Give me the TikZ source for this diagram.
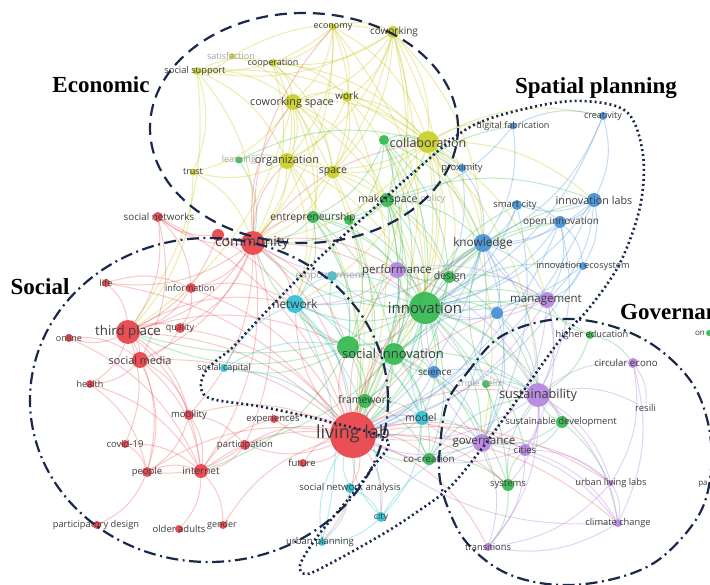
\documentclass[tikz,border=0pt]{standalone}
\usepackage{fontspec}
\setmainfont{Open Sans}
\newfontfamily\headfont{Liberation Serif}
\pgfdeclarelayer{edges}
\pgfdeclarelayer{labels}
\pgfsetlayers{edges,main,labels}
\definecolor{cy}{RGB}{200,204,30}
\definecolor{cg}{RGB}{40,182,70}
\definecolor{cb}{RGB}{60,140,212}
\definecolor{cp}{RGB}{178,126,222}
\definecolor{cr}{RGB}{232,55,62}
\definecolor{cc}{RGB}{38,190,210}
\definecolor{txt}{RGB}{60,60,60}
\definecolor{fade}{RGB}{165,165,165}
\definecolor{navy}{RGB}{25,40,75}
\tikzset{
  dotnode/.style={circle, inner sep=0pt, draw=none, fill opacity=0.88},
  lbl/.style={inner sep=0pt, text=txt},
  ey/.style={draw=cy, draw opacity=0.36, line width=1pt},
  eg/.style={draw=cg, draw opacity=0.3, line width=1pt},
  eb/.style={draw=cb, draw opacity=0.3, line width=1pt},
  ep/.style={draw=cp, draw opacity=0.34, line width=1pt},
  er/.style={draw=cr, draw opacity=0.27, line width=1pt},
  ec/.style={draw=cc, draw opacity=0.32, line width=1pt},
  head/.style={inner sep=0pt, font=\headfont\bfseries\fontsize{23}{23}\selectfont, text=black},
  dashline/.style={draw=navy, line width=2.2pt, dash pattern=on 12pt off 7pt},
  dashdotline/.style={draw=navy, line width=2.2pt, dash pattern=on 12pt off 4.5pt on 2pt off 4.5pt},
  dotline/.style={draw=navy, line width=2.6pt, dash pattern=on 2pt off 3pt},
}
\newcommand\vn[9]{%
  \node[dotnode, fill=#2, minimum size=#5pt] (#1) at (#3,#4) {};
  \begin{pgfonlayer}{labels}
  \node[lbl, font=\fontsize{#8}{#8}\selectfont] (#1-t) at (#6,#7) {#9};
  \end{pgfonlayer}}
\newcommand\vd[5]{%
  \node[dotnode, fill=#2, minimum size=#5pt] (#1) at (#3,#4) {};}
\begin{document}
\begin{tikzpicture}[x=1pt,y=-1pt]
\begin{pgfonlayer}{edges}
\fill[white] (0,0) rectangle (710,585);
\end{pgfonlayer}
\useasboundingbox (0,0) rectangle (710,585);
\clip (0,0) rectangle (710,585);
% yellow
\vn{econ}{cy}{333}{27}{7}{333}{27}{9}{economy}
\vn{cowk}{cy}{393}{32}{12}{394}{32}{10}{coworking}
\vn{satis}{cy}{232}{56}{6}{231}{56}{9}{\color{fade}satisfaction}
\vn{socsup}{cy}{197}{71}{8}{195}{71}{9.3}{social support}
\vn{coop}{cy}{273}{63}{8}{273}{63}{9}{cooperation}
\vn{cwsp}{cy}{293}{102}{16}{292}{103}{10.8}{coworking space}
\vn{work}{cy}{347}{97}{10}{347}{96}{10}{work}
\vn{collab}{cy}{428}{142}{22}{428}{143}{12.5}{collaboration}
\vn{trust}{cy}{193}{172}{7}{193}{172}{9}{trust}
\vn{orgz}{cy}{287}{161}{16}{287}{161}{11}{organization}
\vn{space}{cy}{333}{172}{13}{333}{172}{10.5}{space}
% green
\vn{learn}{cg}{239}{160}{7}{239}{160}{9}{\color{fade}learning}
\vd{g1}{cg}{384}{140}{10}
\vn{maker}{cg}{387}{200}{14}{388}{200}{10.5}{makerspace}
\vn{entre}{cg}{313}{217}{12}{313}{218}{10.4}{entrepreneurship}
\vd{g2}{cg}{349}{220}{10}
\vn{design}{cg}{449}{277}{12}{450}{277}{10.5}{design}
\vn{innov}{cg}{425}{308}{32}{425}{308}{15}{innovation}
\vd{si1}{cg}{348}{347}{22}
\vn{si2}{cg}{394}{354}{22}{393}{354}{13}{social innovation}
\vn{frame}{cg}{365}{401}{14}{365}{400}{10.5}{framework}
\vn{cocre}{cg}{429}{459}{12}{429}{459}{9.8}{co-creation}
\vn{triple}{cg}{486}{384}{8}{480}{384}{9}{\color{fade}triple helix}
\vn{higher}{cg}{590}{335}{8}{592}{335}{9.2}{higher education}
\vn{susdev}{cg}{562}{422}{12}{561}{422}{9.5}{sustainable development}
\vn{systems}{cg}{508}{485}{12}{508}{485}{9.5}{systems}
\vn{on}{cg}{709}{333}{6}{700}{333}{8}{on}
% blue
\vn{prox}{cb}{462}{168}{8}{462}{168}{9.4}{proximity}
\vn{digfab}{cb}{513}{126}{7}{513}{126}{9}{digital fabrication}
\vn{creat}{cb}{603}{116}{8}{603}{116}{9}{creativity}
\vn{ilabs}{cb}{594}{200}{14}{594}{200}{10.8}{innovation labs}
\vn{smart}{cb}{517}{205}{10}{515}{205}{9.5}{smart city}
\vn{openi}{cb}{560}{222}{12}{561}{222}{10}{open innovation}
\vn{know}{cb}{483}{243}{18}{483}{243}{11.8}{knowledge}
\vn{inneco}{cb}{583}{266}{8}{583}{266}{9.2}{innovation ecosystem}
\vd{b1}{cb}{497}{313}{12}
\vn{science}{cb}{434}{372}{12}{435}{372}{9.8}{science}
% purple
\vn{perf}{cp}{397}{270}{16}{397}{270}{11.5}{performance}
\vn{mgmt}{cp}{547}{300}{16}{546}{300}{11.5}{management}
\vn{sust}{cp}{538}{395}{24}{538}{395}{12.7}{sustainability}
\vn{circ}{cp}{633}{363}{10}{626}{363}{9.7}{circular econo}
\vn{gov}{cp}{482}{443}{18}{484}{443}{11.6}{governance}
\vn{cities}{cp}{525}{450}{12}{525}{450}{9.5}{cities}
\vn{ull}{cp}{611}{483}{6}{611}{483}{9.3}{urban living labs}
\vn{climate}{cp}{618}{523}{8}{618}{523}{9.3}{climate change}
\vn{trans}{cp}{488}{547}{8}{488}{547}{9.3}{transitions}
% red
\vn{comm}{cr}{253}{243}{24}{252}{243}{14}{community}
\vd{r2}{cr}{218}{235}{12}
\vn{socnet}{cr}{158}{217}{10}{159}{217}{9.8}{social networks}
\vn{life}{cr}{106}{283}{8}{106}{283}{9}{life}
\vn{info}{cr}{191}{288}{10}{190}{288}{9}{information}
\vn{tp}{cr}{128}{332}{24}{128}{332}{13.3}{third place}
\vn{quality}{cr}{180}{328}{10}{180}{328}{9}{quality}
\vn{online}{cr}{69}{338}{8}{69}{338}{9}{online}
\vn{smedia}{cr}{140}{360}{16}{140}{360}{10.8}{social media}
\vn{health}{cr}{90}{384}{8}{90}{384}{9}{health}
\vn{mobil}{cr}{189}{415}{10}{189}{415}{9.5}{mobility}
\vn{covid}{cr}{125}{444}{8}{125}{444}{9.5}{covid-19}
\vn{partic}{cr}{245}{445}{10}{245}{445}{9.5}{participation}
\vn{people}{cr}{147}{472}{10}{147}{472}{9.5}{people}
\vn{internet}{cr}{201}{471}{14}{201}{471}{10}{internet}
\vn{pdesign}{cr}{97}{525}{8}{96}{525}{9.3}{participatory design}
\vn{older}{cr}{179}{529}{8}{179}{529}{9.5}{older adults}
\vn{gender}{cr}{223}{525}{8}{222}{525}{9}{gender}
\vn{exper}{cr}{274}{419}{8}{273}{419}{9.5}{experiences}
\vn{future}{cr}{303}{463}{8}{302}{463}{9.5}{future}
\vn{ll}{cr}{353}{435}{46}{353}{434}{18}{living lab}
% cyan
\vn{sockap}{cc}{224}{368}{8}{224}{368}{9}{social capital}
\vn{netw}{cc}{295}{304}{18}{295}{304}{11.8}{network}
\vn{empow}{cc}{332}{276}{10}{330}{276}{10}{\color{fade}empowerment}
\vn{model}{cc}{422}{418}{14}{421}{418}{10.5}{model}
\vn{sna}{cc}{350}{488}{10}{350}{488}{9.5}{social network analysis}
\vn{city}{cc}{381}{517}{10}{381}{517}{9}{city}
\vn{uplan}{cc}{322}{542}{8}{320}{542}{9.5}{urban planning}
% label-only texts
\begin{pgfonlayer}{labels}
\node[lbl, text=fade, font=\fontsize{9}{9}\selectfont] (policy-t) at (433,199) {policy};
\node[lbl, font=\fontsize{9.5}{9.5}\selectfont, anchor=west] (resil-t) at (635,408) {resili};
\node[lbl, font=\fontsize{8}{8}\selectfont] (pa-t) at (703,484) {pa};
\end{pgfonlayer}
% edges
\begin{pgfonlayer}{edges}
\foreach \a/\b in {econ/cowk, econ/cwsp, econ/coop, econ/collab, econ/orgz, econ/space, econ/socsup, econ/work, econ/comm, econ/innov,
cowk/cwsp, cowk/work, cowk/collab, cowk/coop, cowk/orgz, cowk/space, cowk/socsup, cowk/comm, cowk/innov, cowk/know, cowk/maker, cowk/ll, cowk/si1,
satis/socsup, satis/cwsp, satis/cowk,
socsup/coop, socsup/cwsp, socsup/trust, socsup/comm, socsup/tp, socsup/orgz, socsup/collab,
coop/cwsp, coop/collab, coop/work, coop/orgz, coop/space, coop/comm,
cwsp/work, cwsp/collab, cwsp/orgz, cwsp/space, cwsp/comm, cwsp/trust, cwsp/tp, cwsp/innov, cwsp/ll, cwsp/maker, cwsp/entre, cwsp/netw,
work/collab, work/space, work/orgz, work/innov, work/ll, work/know,
collab/space, collab/orgz, collab/innov, collab/know, collab/maker, collab/ll, collab/si2, collab/design, collab/mgmt, collab/prox, collab/digfab, collab/creat, collab/ilabs, collab/netw, collab/comm, collab/gov, collab/sust,
orgz/space, orgz/trust, orgz/comm, orgz/innov, orgz/ll, orgz/netw, orgz/entre,
space/maker, space/innov, space/ll, space/comm, space/design,
trust/comm, trust/tp}
  \draw[ey] (\a) to[bend left=20] (\b);
\foreach \a/\b in {g1/maker, g1/innov, g1/design, g1/si2, g1/entre, g1/prox, g1/know, g1/frame, g1/collab, g1/g2,
maker/innov, maker/design, maker/si1, maker/si2, maker/entre, maker/digfab, maker/know, maker/ll, maker/ilabs, maker/perf, maker/comm, maker/frame, maker/g2,
entre/innov, entre/si1, entre/si2, entre/comm, entre/netw, entre/ll, entre/perf, entre/g2,
g2/innov, g2/si1, g2/ll,
design/innov, design/know, design/ll, design/si2, design/sust, design/mgmt, design/perf, design/openi,
innov/si1, innov/si2, innov/ll, innov/know, innov/mgmt, innov/perf, innov/sust, innov/gov, innov/netw, innov/comm, innov/model, innov/cocre, innov/frame, innov/science, innov/smart, innov/openi, innov/ilabs, innov/inneco, innov/b1, innov/higher, innov/susdev, innov/systems, innov/cities, innov/tp, innov/partic, innov/empow,
si1/si2, si1/ll, si1/netw, si1/comm, si1/frame, si1/empow, si1/sockap, si1/tp, si1/internet, si1/model,
si2/ll, si2/sust, si2/gov, si2/cocre, si2/model, si2/science, si2/know, si2/mgmt, si2/frame, si2/systems,
frame/ll, frame/model, frame/cocre,
cocre/ll, cocre/gov, cocre/sust, cocre/model, cocre/systems,
triple/gov, triple/sust, triple/know,
higher/sust, higher/mgmt, higher/circ,
susdev/sust, susdev/cities, susdev/gov, susdev/climate,
systems/gov, systems/sust, systems/trans, systems/cities,
learn/orgz, learn/comm, learn/collab}
  \draw[eg] (\a) to[bend left=20] (\b);
\foreach \a/\b in {prox/know, prox/innov, prox/collab,
digfab/maker, digfab/creat, digfab/know,
creat/ilabs, creat/know, creat/innov,
ilabs/openi, ilabs/smart, ilabs/know, ilabs/innov, ilabs/inneco, ilabs/mgmt, ilabs/ll,
smart/know, smart/openi, smart/innov, smart/gov,
openi/know, openi/innov, openi/inneco, openi/ll, openi/mgmt, openi/sust,
know/innov, know/mgmt, know/sust, know/gov, know/ll, know/si2, know/b1, know/perf, know/netw, know/cocre,
inneco/innov, inneco/ll, inneco/mgmt,
b1/innov, b1/ll, b1/sust, b1/gov, b1/mgmt,
science/ll, science/innov, science/gov, science/sust, science/si2}
  \draw[eb] (\a) to[bend left=20] (\b);
\foreach \a/\b in {perf/innov, perf/ll, perf/mgmt, perf/netw, perf/comm, perf/sust,
mgmt/innov, mgmt/sust, mgmt/gov, mgmt/ll, mgmt/cities, mgmt/know,
sust/gov, sust/cities, sust/ll, sust/circ, sust/resil-t, sust/climate, sust/ull, sust/trans, sust/susdev, sust/innov, sust/systems,
circ/climate, circ/resil-t, circ/ull,
gov/cities, gov/ll, gov/trans, gov/ull, gov/climate, gov/innov, gov/model, gov/cocre,
cities/ull, cities/trans, cities/climate, cities/ll,
ull/climate, ull/trans,
climate/trans, climate/ll}
  \draw[ep] (\a) to[bend left=20] (\b);
\foreach \a/\b in {comm/r2, comm/socnet, comm/tp, comm/info, comm/ll, comm/innov, comm/si1, comm/netw, comm/smedia, comm/quality, comm/life, comm/internet, comm/partic, comm/cwsp, comm/orgz, comm/collab, comm/entre, comm/perf, comm/econ, comm/mobil,
r2/socnet, r2/tp, r2/ll,
socnet/tp, socnet/ll, socnet/smedia, socnet/info,
life/tp, life/info, life/ll,
info/tp, info/ll, info/netw, info/quality,
tp/smedia, tp/online, tp/quality, tp/health, tp/ll, tp/mobil, tp/internet, tp/people, tp/covid, tp/si1, tp/netw,
quality/ll, quality/smedia,
online/smedia, online/internet,
smedia/internet, smedia/ll, smedia/health, smedia/people, smedia/mobil,
health/people, health/internet,
mobil/internet, mobil/ll, mobil/people, mobil/partic,
covid/internet, covid/people,
partic/ll, partic/internet, partic/people,
people/internet, people/pdesign, people/ll,
internet/older, internet/ll, internet/gender, internet/exper,
gender/ll, exper/ll, future/ll,
ll/netw, ll/si1, ll/si2, ll/innov, ll/gov, ll/sust, ll/cocre, ll/model, ll/frame, ll/sna, ll/uplan, ll/city, ll/perf, ll/know, ll/partic, ll/exper, ll/future, ll/mgmt, ll/cities, ll/systems, ll/trans, ll/climate, ll/ull}
  \draw[er] (\a) to[bend left=20] (\b);
\foreach \a/\b in {sockap/netw, sockap/si1, sockap/ll,
netw/ll, netw/innov, netw/si1, netw/empow, netw/model, netw/city, netw/uplan,
empow/innov, empow/si1,
model/ll, model/innov, model/gov, model/city,
sna/ll, sna/city, sna/uplan,
city/ll, city/uplan, city/gov,
uplan/ll}
  \draw[ec] (\a) to[bend left=20] (\b);
\end{pgfonlayer}
% annotation outlines and headings
\begin{pgfonlayer}{labels}
\draw[dashline] (304,128) ellipse [x radius=154, y radius=115];
\draw[dashdotline] (209,400) ellipse [x radius=179, y radius=162];
\draw[dashdotline] plot[smooth cycle, tension=0.6] coordinates {(447,403) (467,373) (500,337) (550,320) (600,323) (650,343) (690,380) (708,423) (711,470) (700,513) (667,553) (633,573) (585,584) (540,583) (500,570) (467,543) (450,513) (440,480) (440,447)};
\draw[dotline] plot[smooth cycle, tension=0.55] coordinates {(330,422) (263,407) (212,399) (201,388) (205,372) (217,360) (233,347) (260,318) (317,260) (383,200) (413,173) (470,127) (533,107) (583,101) (627,112) (643,155) (640,207) (620,263) (590,307) (560,340) (517,400) (483,447) (450,487) (417,512) (383,534) (333,562) (307,574) (300,565) (317,537) (350,497) (373,467) (387,440)};
\node[head, anchor=base] (h-econ) at (101,93) {Economic};
\node[head, anchor=base] (h-spat) at (596,94) {Spatial planning};
\node[head, anchor=base] (h-soc) at (40,295) {Social};
\node[head, anchor=base west] (h-gov) at (620,320) {Governance};
\end{pgfonlayer}
\end{tikzpicture}
\end{document}
